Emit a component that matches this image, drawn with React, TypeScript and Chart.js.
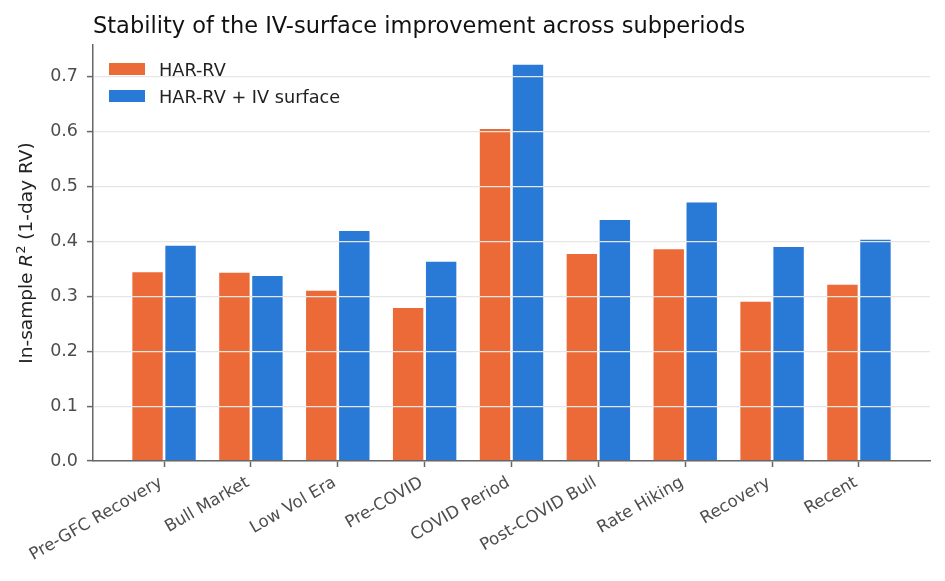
import { useEffect, useRef } from "react";
import { Chart, registerables } from "chart.js";

Chart.register(...registerables);

const categories = [
  "Pre-GFC Recovery",
  "Bull Market",
  "Low Vol Era",
  "Pre-COVID",
  "COVID Period",
  "Post-COVID Bull",
  "Rate Hiking",
  "Recovery",
  "Recent",
];
const harRv = [0.344, 0.343, 0.31, 0.279, 0.605, 0.377, 0.386, 0.29, 0.321];
const harRvIv = [0.392, 0.337, 0.419, 0.363, 0.722, 0.439, 0.471, 0.39, 0.403];
const seriesLabels = ["HAR-RV", "HAR-RV + IV surface"];
const seriesColors = ["#EC6A37", "#2979D6"];
const yTicks = [0, 0.1, 0.2, 0.3, 0.4, 0.5, 0.6, 0.7];

const title = "Stability of the IV-surface improvement across subperiods";
const FONT = "'DejaVu Sans', sans-serif";

// title, y-axis label (with italic R and superscript), rotated x labels and legend
const textPlugin = {
  id: "textPlugin",
  afterDraw(chart: Chart) {
    const ctx = chart.ctx;
    const area = chart.chartArea;
    ctx.save();

    ctx.fillStyle = "#111";
    ctx.font = `22.5px ${FONT}`;
    ctx.textBaseline = "alphabetic";
    ctx.textAlign = "left";
    ctx.fillText(title, area.left, 33);

    // y label
    const parts = [
      { t: "In-sample ", f: `18.5px ${FONT}`, dy: 0 },
      { t: "R", f: `italic 18.5px ${FONT}`, dy: 0 },
      { t: "2", f: `13px ${FONT}`, dy: -7 },
      { t: " (1-day RV)", f: `18.5px ${FONT}`, dy: 0 },
    ];
    let total = 0;
    parts.forEach((p) => {
      ctx.font = p.f;
      total += ctx.measureText(p.t).width;
    });
    ctx.translate(32, (area.top + area.bottom) / 2);
    ctx.rotate(-Math.PI / 2);
    ctx.fillStyle = "#222";
    let x = -total / 2;
    parts.forEach((p) => {
      ctx.font = p.f;
      ctx.fillText(p.t, x, p.dy);
      x += ctx.measureText(p.t).width;
    });
    ctx.restore();

    // x tick labels, right end at the tick like matplotlib ha="right"
    const xScale = chart.scales.x;
    ctx.save();
    ctx.font = `16.7px ${FONT}`;
    ctx.fillStyle = "#4d4d4d";
    ctx.textAlign = "right";
    ctx.textBaseline = "middle";
    categories.forEach((label, i) => {
      const px = xScale.getPixelForValue(i);
      ctx.save();
      ctx.translate(px - 3, area.bottom + 20.5);
      ctx.rotate(-Math.PI / 6);
      ctx.fillText(label, 0, 0);
      ctx.restore();
    });
    ctx.restore();

    // legend
    ctx.save();
    ctx.font = `17.7px ${FONT}`;
    ctx.textBaseline = "alphabetic";
    seriesLabels.forEach((label, i) => {
      const y = 63 + i * 27;
      ctx.fillStyle = seriesColors[i];
      ctx.fillRect(area.left + 16, y, 36, 12);
      ctx.fillStyle = "#222";
      ctx.fillText(label, area.left + 66, y + 12.5);
    });
    ctx.restore();
  },
};

export default function App() {
  const chartRef = useRef<HTMLCanvasElement>(null);
  const chartInstanceRef = useRef<Chart | null>(null);

  useEffect(() => {
    if (!chartRef.current) return;
    if (chartInstanceRef.current) {
      chartInstanceRef.current.destroy();
    }
    const ctx = chartRef.current.getContext("2d");
    if (!ctx) return;

    chartInstanceRef.current = new Chart(ctx, {
      type: "bar",
      data: {
        datasets: [
          {
            label: seriesLabels[0],
            data: harRv.map((v, i) => ({ x: i, y: v })),
            backgroundColor: seriesColors[0],
          },
          {
            label: seriesLabels[1],
            data: harRvIv.map((v, i) => ({ x: i, y: v })),
            backgroundColor: seriesColors[1],
          },
        ],
      },
      options: {
        animation: false,
        responsive: true,
        maintainAspectRatio: false,
        layout: { padding: { top: 45, right: 15, left: 0, bottom: 0 } },
        datasets: {
          bar: { categoryPercentage: 0.76, barPercentage: 0.921 },
        },
        plugins: {
          legend: { display: false },
          title: { display: false },
          tooltip: { enabled: false },
        },
        scales: {
          x: {
            type: "linear",
            min: -0.818,
            max: 8.818,
            offset: false,
            afterBuildTicks: (scale: any) => {
              scale.ticks = categories.map((_, i) => ({ value: i }));
            },
            afterFit: (scale: any) => {
              scale.height = 120;
            },
            grid: {
              offset: false,
              drawOnChartArea: false,
              drawTicks: true,
              tickLength: 6,
              tickColor: "#666",
              tickWidth: 1.5,
            },
            border: { color: "#666", width: 1.5, z: 2 },
            ticks: { display: false, stepSize: 1, autoSkip: false },
          },
          y: {
            min: 0,
            max: 0.758,
            afterBuildTicks: (scale: any) => {
              scale.ticks = yTicks.map((v) => ({ value: v }));
            },
            afterFit: (scale: any) => {
              scale.width = 93;
            },
            grid: {
              z: 1,
              color: "#e6e6e6",
              lineWidth: 1.2,
              tickLength: 6,
              tickColor: "#666",
              tickWidth: 1.5,
            },
            border: { color: "#666", width: 1.5, z: 1 },
            ticks: {
              padding: 9,
              color: "#4d4d4d",
              font: { family: FONT, size: 17.5 },
              callback: (value: any) => (value as number).toFixed(1),
            },
          },
        },
      },
      plugins: [textPlugin],
    });

    return () => {
      if (chartInstanceRef.current) {
        chartInstanceRef.current.destroy();
        chartInstanceRef.current = null;
      }
    };
  }, []);

  return (
    <div style={{ position: "fixed", left: 0, top: 0, width: 945, height: 581, background: "#fff" }}>
      <canvas ref={chartRef}></canvas>
    </div>
  );
}
